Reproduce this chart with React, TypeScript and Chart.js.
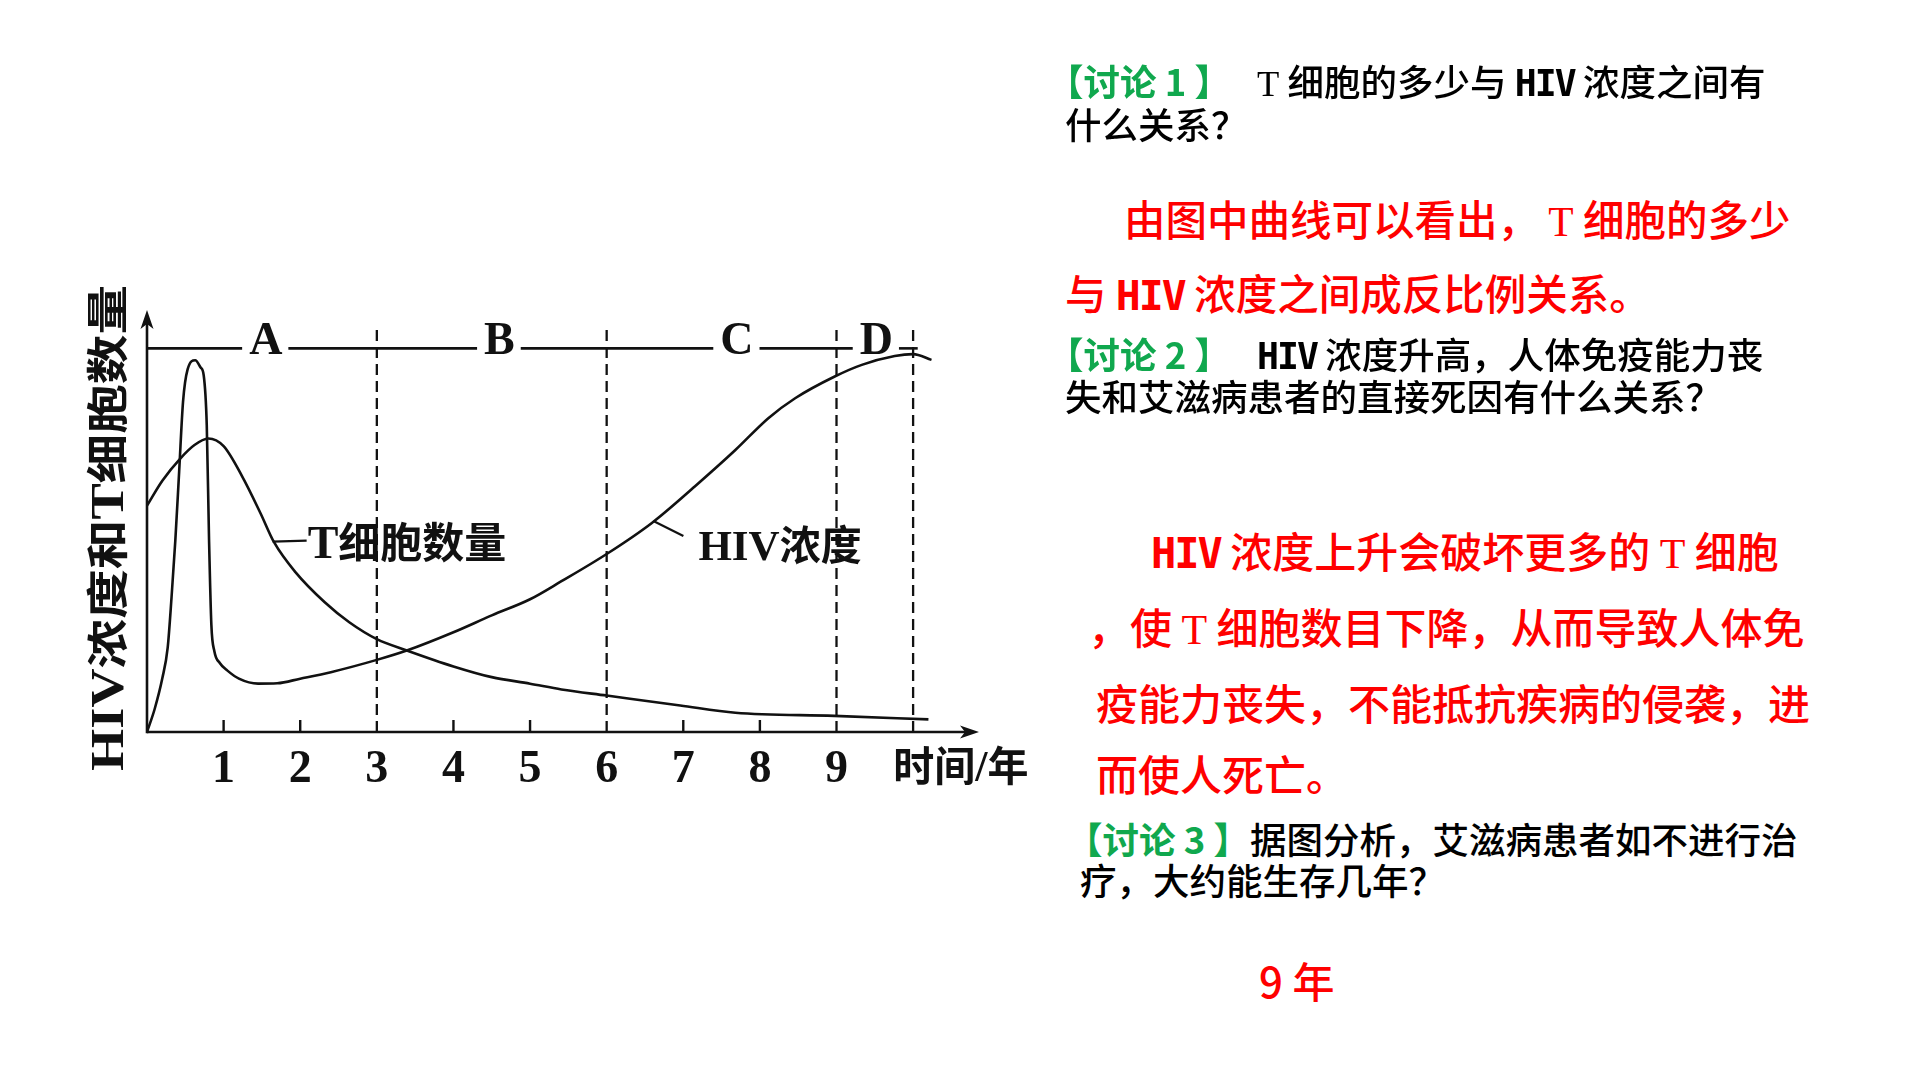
import React, { useEffect, useRef } from "react";
import { Chart, registerables } from "chart.js";

Chart.register(...registerables);

// ---- data (years, relative value 0..100 where 100 = the phase line) ----
const tCellYears = [0, 0.2, 0.44, 0.62, 0.8, 1.0, 1.24, 1.48, 1.66, 1.94, 2.32, 2.64, 3.0, 3.4, 4.0, 4.5, 5.0, 5.41, 6.0, 6.96, 7.68, 8.97, 10.2];
const tCellValues = [59, 65.5, 71.4, 74.8, 76.5, 74.5, 66.7, 57.1, 49.4, 41.6, 33.8, 28.6, 24.2, 21.2, 17.1, 14.3, 12.6, 11.1, 9.5, 6.9, 5.0, 4.2, 3.3];

const hivYears = [0, 0.1, 0.2, 0.27, 0.32, 0.37, 0.42, 0.47, 0.53, 0.63, 0.7, 0.74, 0.78, 0.81, 0.84, 0.88, 0.95, 1.05, 1.2, 1.45, 1.7, 2.0, 2.4, 3.0, 3.4, 4.0, 4.5, 5.0, 5.41, 6.0, 6.59, 7.15, 7.68, 8.11, 8.46, 8.97, 9.33, 9.76, 10.0, 10.24];
const hivValues = [0, 6, 14, 22, 35, 50, 68, 86, 94.5, 96.9, 95, 93, 80, 50, 28, 21, 18, 16, 13.9, 12.6, 12.7, 13.9, 15.6, 18.8, 21.3, 26.0, 30.4, 34.6, 39.3, 46.4, 54.5, 64.0, 73.5, 81.8, 87.0, 92.6, 95.7, 98.0, 98.5, 97.0];

const tickYears = [1, 2, 3, 4, 5, 6, 7, 8, 9];
const tickLabels = ["1", "2", "3", "4", "5", "6", "7", "8", "9"];
const phaseBounds = [3, 6, 9, 10];
const phaseLabels = ["A", "B", "C", "D"];
const phaseLabelYears = [1.55, 4.6, 7.7, 9.52];

const X_MAX = 10.86;
const Y_MAX = 110;
const PHASE_LEVEL = 100;

const LATIN = "'Liberation Serif', 'DejaVu Serif', serif";
const CJK = "'Noto Sans CJK SC', sans-serif";
const INK = "#111";

type Run = { t: string; f: string };

function runsWidth(ctx: CanvasRenderingContext2D, runs: Run[]) {
  let w = 0;
  for (const r of runs) {
    ctx.font = r.f;
    w += ctx.measureText(r.t).width;
  }
  return w;
}
function drawRuns(ctx: CanvasRenderingContext2D, runs: Run[], x: number, y: number) {
  let cx = x;
  for (const r of runs) {
    ctx.font = r.f;
    ctx.fillText(r.t, cx, y);
    cx += ctx.measureText(r.t).width;
  }
  return cx;
}

const overlayPlugin = {
  id: "overlay",
  beforeDatasetsDraw(chart: any) {
    const ctx: CanvasRenderingContext2D = chart.ctx;
    const xs = chart.scales.x;
    const ys = chart.scales.y;
    const X = (v: number) => xs.getPixelForValue(v);
    const Y = (v: number) => ys.getPixelForValue(v);
    ctx.save();
    ctx.strokeStyle = INK;
    ctx.fillStyle = INK;

    // dashed phase boundaries
    ctx.setLineDash([11, 6]);
    ctx.lineWidth = 2.3;
    for (const b of phaseBounds) {
      ctx.beginPath();
      ctx.moveTo(X(b), Y(0));
      ctx.lineTo(X(b), Y(105));
      ctx.stroke();
    }
    ctx.setLineDash([]);
    ctx.restore();
  },
  afterDatasetsDraw(chart: any) {
    const ctx: CanvasRenderingContext2D = chart.ctx;
    const xs = chart.scales.x;
    const ys = chart.scales.y;
    const X = (v: number) => xs.getPixelForValue(v);
    const Y = (v: number) => ys.getPixelForValue(v);
    ctx.save();
    ctx.strokeStyle = INK;
    ctx.fillStyle = INK;
    ctx.lineCap = "butt";

    const x0 = X(0);
    const y0 = Y(0);
    const xEnd = X(X_MAX);
    const yTop = Y(Y_MAX);

    // axes
    ctx.lineWidth = 2.6;
    ctx.beginPath();
    ctx.moveTo(x0, y0);
    ctx.lineTo(xEnd - 12, y0);
    ctx.stroke();
    ctx.beginPath();
    ctx.moveTo(x0, y0 + 1.3);
    ctx.lineTo(x0, yTop + 12);
    ctx.stroke();
    // arrow heads
    ctx.beginPath();
    ctx.moveTo(xEnd, y0);
    ctx.lineTo(xEnd - 19, y0 - 6.5);
    ctx.lineTo(xEnd - 14, y0);
    ctx.lineTo(xEnd - 19, y0 + 6.5);
    ctx.closePath();
    ctx.fill();
    ctx.beginPath();
    ctx.moveTo(x0, yTop);
    ctx.lineTo(x0 - 6.5, yTop + 19);
    ctx.lineTo(x0, yTop + 14);
    ctx.lineTo(x0 + 6.5, yTop + 19);
    ctx.closePath();
    ctx.fill();

    // tick marks
    ctx.lineWidth = 2.4;
    for (const t of tickYears) {
      if (phaseBounds.includes(t)) continue;
      ctx.beginPath();
      ctx.moveTo(X(t), y0);
      ctx.lineTo(X(t), y0 - 12);
      ctx.stroke();
    }

    // tick labels
    ctx.textAlign = "center";
    ctx.textBaseline = "alphabetic";
    ctx.font = `bold 46px ${LATIN}`;
    tickYears.forEach((t, i) => {
      ctx.fillText(tickLabels[i], X(t), y0 + 50);
    });

    // x axis title
    ctx.textAlign = "left";
    drawRuns(
      ctx,
      [
        { t: "时间", f: `bold 41px ${CJK}` },
        { t: "/", f: `bold 44px ${LATIN}` },
        { t: "年", f: `bold 41px ${CJK}` },
      ],
      X(9.74),
      y0 + 49
    );

    // phase line with letter gaps
    const py = Y(PHASE_LEVEL);
    ctx.font = `bold 46px ${LATIN}`;
    const gaps: [number, number][] = phaseLabels.map((lab, i) => {
      const cx = X(phaseLabelYears[i]);
      const w = ctx.measureText(lab).width;
      return [cx - w / 2 - 7, cx + w / 2 + 6];
    });
    ctx.lineWidth = 2.6;
    let start = x0;
    for (const [g0, g1] of gaps) {
      ctx.beginPath();
      ctx.moveTo(start, py);
      ctx.lineTo(g0, py);
      ctx.stroke();
      start = g1;
    }
    ctx.beginPath();
    ctx.moveTo(start, py);
    ctx.lineTo(X(10.06), py);
    ctx.stroke();
    ctx.textAlign = "center";
    phaseLabels.forEach((lab, i) => {
      ctx.fillText(lab, X(phaseLabelYears[i]), py + 6);
    });

    // T cell label with leader
    ctx.lineWidth = 2.2;
    const tl = { x: X(1.64), y: Y(49.6) };
    ctx.beginPath();
    ctx.moveTo(tl.x, tl.y);
    ctx.lineTo(tl.x + 34, tl.y - 1);
    ctx.stroke();
    ctx.textAlign = "left";
    drawRuns(
      ctx,
      [
        { t: "T", f: `bold 46px ${LATIN}` },
        { t: "细胞数量", f: `bold 42px ${CJK}` },
      ],
      tl.x + 35,
      tl.y + 16
    );

    // HIV label with leader
    const hl = { x: X(6.61), y: Y(55) };
    ctx.beginPath();
    ctx.moveTo(hl.x, hl.y);
    ctx.lineTo(hl.x + 30, hl.y + 15);
    ctx.stroke();
    drawRuns(
      ctx,
      [
        { t: "HIV", f: `bold 43px ${LATIN}` },
        { t: "浓度", f: `bold 41px ${CJK}` },
      ],
      hl.x + 45,
      hl.y + 39
    );

    // y axis title (rotated)
    const yRuns: Run[] = [
      { t: "HIV", f: `bold 46px ${LATIN}` },
      { t: "浓度和", f: `bold 42px ${CJK}` },
      { t: "T", f: `bold 46px ${LATIN}` },
      { t: "细胞数量", f: `bold 42px ${CJK}` },
    ];
    const w = runsWidth(ctx, yRuns);
    const targetLen = 486;
    ctx.save();
    ctx.translate(x0 - 24, 528);
    ctx.rotate(-Math.PI / 2);
    ctx.scale(targetLen / w, 1);
    ctx.textAlign = "left";
    drawRuns(ctx, yRuns, -w / 2, 0);
    ctx.restore();

    ctx.restore();
  },
};

function ChartCanvas() {
  const ref = useRef<HTMLCanvasElement | null>(null);
  useEffect(() => {
    if (!ref.current) return;
    const chart = new Chart(ref.current, {
      type: "line",
      data: {
        datasets: [
          {
            label: "T细胞数量",
            data: tCellYears.map((x, i) => ({ x, y: tCellValues[i] })),
            borderColor: INK,
            borderWidth: 2.6,
            pointRadius: 0,
            cubicInterpolationMode: "monotone",
            fill: false,
          },
          {
            label: "HIV浓度",
            data: hivYears.map((x, i) => ({ x, y: hivValues[i] })),
            borderColor: INK,
            borderWidth: 2.6,
            pointRadius: 0,
            cubicInterpolationMode: "monotone",
            fill: false,
          },
        ],
      },
      options: {
        responsive: false,
        animation: false,
        maintainAspectRatio: false,
        layout: { padding: { left: 147, top: 310, right: 1060 - 979, bottom: 1080 - 732 } },
        plugins: { legend: { display: false }, tooltip: { enabled: false } },
        scales: {
          x: { type: "linear", min: 0, max: X_MAX, display: false },
          y: { type: "linear", min: 0, max: Y_MAX, display: false },
        },
      },
      plugins: [overlayPlugin],
    } as any);
    return () => chart.destroy();
  }, []);
  return (
    <canvas
      ref={ref}
      width={1060}
      height={1080}
      style={{ position: "absolute", left: 0, top: 0, width: 1060, height: 1080 }}
    />
  );
}

const GREEN = "#10A84E";
const RED = "#FF0000";

function Line(props: { left: number; cy: number; size: number; color?: string; weight?: number; children: React.ReactNode }) {
  const L = props.size * 1.5;
  return (
    <div
      style={{
        position: "absolute",
        left: props.left,
        top: props.cy - L / 2 - props.size * 0.056,
        height: L,
        lineHeight: `${L}px`,
        fontSize: props.size,
        color: props.color || "#000",
        fontWeight: props.weight || 500,
        fontFamily: CJK,
        whiteSpace: "pre",
      }}
    >
      {props.children}
    </div>
  );
}

const T = () => <span style={{ fontFamily: LATIN, lineHeight: 0 }}>T</span>;
const HIV = () => (
  <span style={{ fontFamily: "'DejaVu Sans Mono', monospace", fontWeight: 700, lineHeight: 0, letterSpacing: -2 }}>HIV</span>
);
const G = (p: { children: React.ReactNode }) => <span style={{ color: GREEN, fontWeight: 700 }}>{p.children}</span>;
const Gap = (p: { w: number }) => <span style={{ display: "inline-block", width: p.w }} />;

export default function App() {
  return (
    <div style={{ position: "fixed", left: 0, top: 0, width: 1920, height: 1080, background: "#fff", overflow: "hidden" }}>
      <ChartCanvas />
      <Line left={1047} cy={83} size={36.5}>
        <G>【讨论 1 】</G>
        <Gap w={26} />
        <T /> 细胞的多少与 <HIV /> 浓度之间有
      </Line>
      <Line left={1065} cy={126} size={36.5}>什么关系？</Line>
      <Line left={1124} cy={220} size={41.5} color={RED}>
        由图中曲线可以看出， <T /> 细胞的多少
      </Line>
      <Line left={1065} cy={294} size={41.5} color={RED}>
        与 <HIV /> 浓度之间成反比例关系。
      </Line>
      <Line left={1047} cy={356} size={36.5}>
        <G>【讨论 2 】</G>
        <Gap w={26} />
        <HIV /> 浓度升高，人体免疫能力丧
      </Line>
      <Line left={1065} cy={398} size={36.5}>失和艾滋病患者的直接死因有什么关系？</Line>
      <Line left={1151} cy={552} size={42} color={RED}>
        <HIV /> 浓度上升会破坏更多的 <T /> 细胞
      </Line>
      <Line left={1088} cy={628} size={42} color={RED}>
        ，使 <T /> 细胞数目下降，从而导致人体免
      </Line>
      <Line left={1096} cy={704} size={42} color={RED}>
        疫能力丧失，不能抵抗疾病的侵袭，进
      </Line>
      <Line left={1096} cy={775} size={42} color={RED}>
        而使人死亡。
      </Line>
      <Line left={1066} cy={841} size={36.5}>
        <G>【讨论 3 】</G>据图分析，艾滋病患者如不进行治
      </Line>
      <Line left={1080} cy={882} size={36.5}>疗，大约能生存几年？</Line>
      <Line left={1259} cy={982} size={42} color={RED}>
        9 年
      </Line>
    </div>
  );
}
